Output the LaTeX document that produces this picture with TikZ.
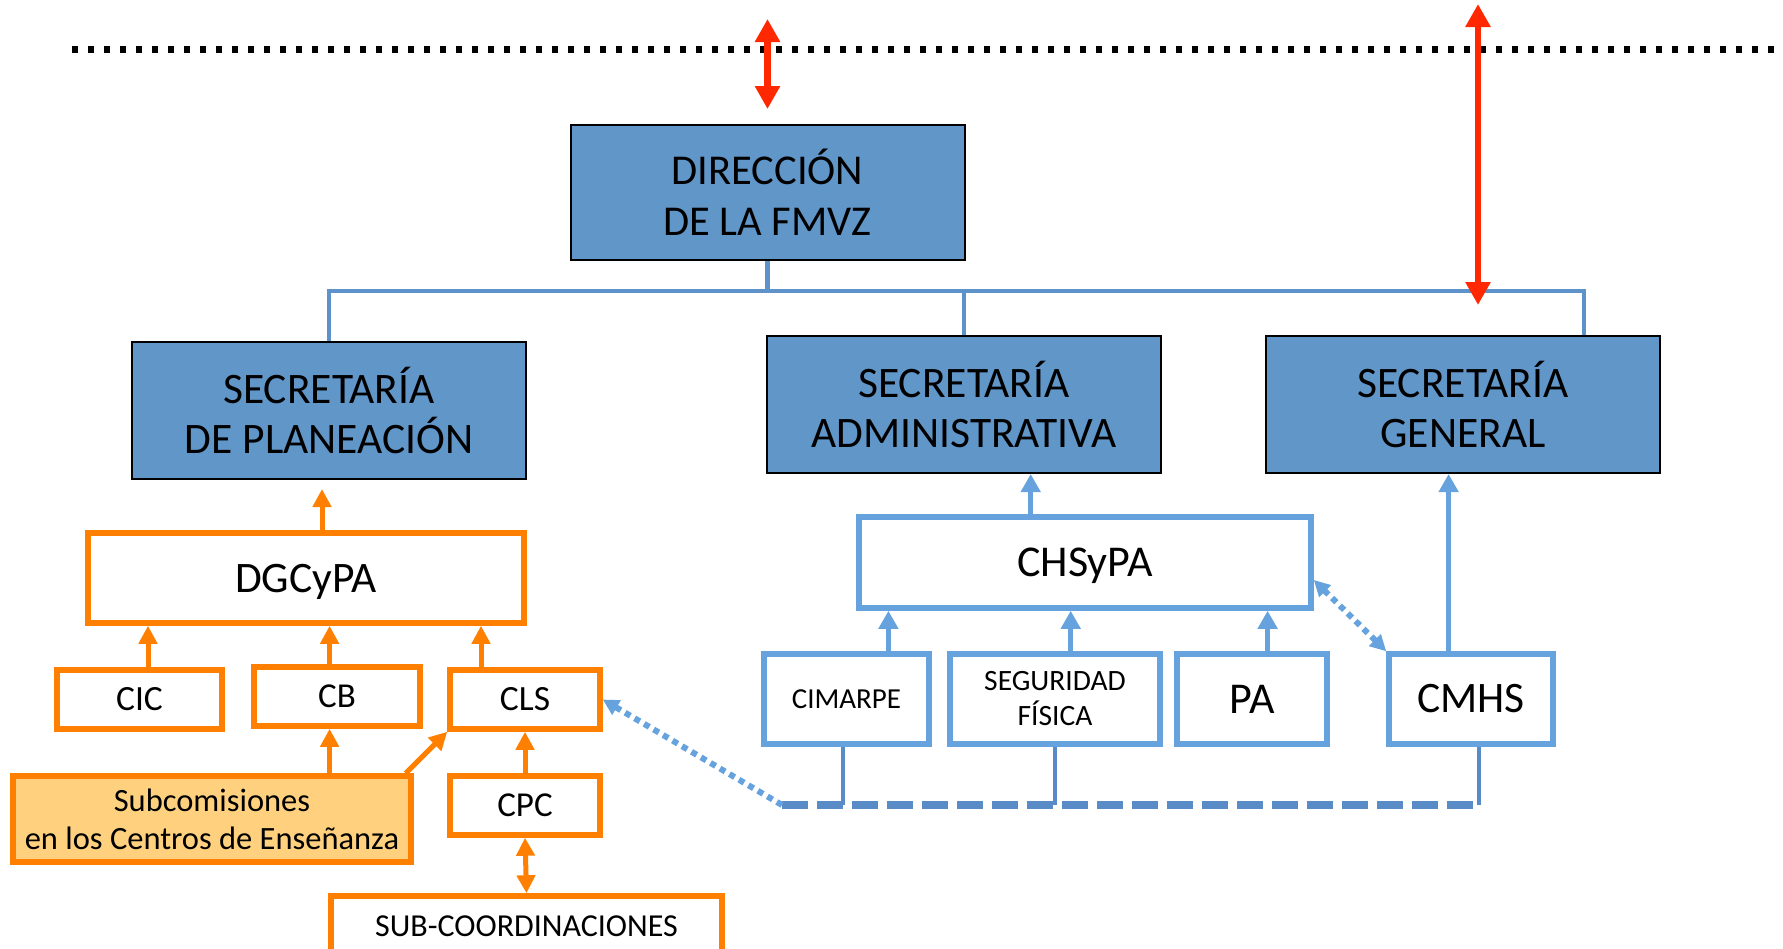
\documentclass[tikz,border=0pt]{standalone}
\usepackage{fontspec}
\setmainfont{Carlito}
\usetikzlibrary{arrows.meta}
\definecolor{secfill}{RGB}{97,150,201}
\definecolor{linkblue}{RGB}{94,146,202}
\definecolor{boxblue}{RGB}{102,163,222}
\definecolor{dashblue}{RGB}{89,140,199}
\definecolor{orng}{RGB}{255,128,0}
\definecolor{paleorng}{RGB}{255,209,127}
\definecolor{redarr}{RGB}{255,40,0}
\begin{document}
\begin{tikzpicture}[x=1pt,y=-1pt,
	secbox/.style={draw=black,line width=2pt,fill=secfill,minimum width=394pt,minimum height=137pt,inner sep=0pt,align=center,font=\fontsize{43.5}{50}\selectfont},
	obox/.style={draw=orng,line width=5.5pt,fill=white,inner sep=0pt,align=center},
	bbox/.style={draw=boxblue,line width=5.5pt,fill=white,inner sep=0pt,align=center},
	link/.style={draw=linkblue,line width=4.5pt},
	drop/.style={draw=dashblue,line width=4pt},
	oarr/.style={draw=orng,line width=5pt,-{Triangle[length=18pt,width=18pt]}},
	barr/.style={draw=boxblue,line width=5pt,-{Triangle[length=18pt,width=19pt]}},
	rarr/.style={draw=redarr,line width=6.5pt,{Triangle[length=23pt,width=24pt]}-{Triangle[length=23pt,width=24pt]}},
	dotarr/.style={draw=boxblue,line width=6pt,dash pattern=on 6pt off 5pt}
	]
	\useasboundingbox (0,0) rectangle (1783,948);
	
	\coordinate (topL) at (72,49);
	\coordinate (topR) at (1783,49);
	\draw[line width=7pt,dash pattern=on 6pt off 10pt] (topL) -- (topR);
	
	\node[secbox,minimum height=135pt,font=\fontsize{42.5}{51}\selectfont] (dir) at (767.5,192.5) {DIRECCIÓN\\DE LA FMVZ};
	\node[secbox] (secplan) at (329,410.5) {SECRETARÍA\\DE PLANEACIÓN};
	\node[secbox] (secadm) at (964,404.5) {SECRETARÍA\\ADMINISTRATIVA};
	\node[secbox] (secgen) at (1463,404.5) {SECRETARÍA\\GENERAL};
	
	\coordinate (busL) at (329,291);
	\coordinate (busR) at (1584,291);
	\draw[link] (dir.south) -- (dir.south |- busL);
	\draw[link] (secplan.north) -- (busL) -- (busR) -- (busR |- secgen.north);
	\draw[link] (secadm.north) -- (secadm.north |- busL);
	
	\node[obox,minimum width=436pt,minimum height=90pt,text depth=0pt,font=\fontsize{43.5}{50}\selectfont] (dgcypa) at (306,578) {DGCyPA};
	\node[obox,minimum width=165pt,minimum height=59pt,font=\fontsize{35.5}{40}\selectfont] (cic) at (139.5,699.5) {CIC};
	\node[obox,minimum width=166pt,minimum height=59pt,font=\fontsize{35}{40}\selectfont] (cb) at (337,696.5) {CB};
	\node[obox,minimum width=150pt,minimum height=59pt,font=\fontsize{35.5}{40}\selectfont] (cls) at (525,699.5) {CLS};
	\node[obox,fill=paleorng,minimum width=398pt,minimum height=86pt,font=\fontsize{32.5}{38}\selectfont] (subcom) at (212,819) {Subcomisiones\\en los Centros de Enseñanza};
	\node[obox,minimum width=150pt,minimum height=59pt,font=\fontsize{35}{40}\selectfont] (cpc) at (525,805.5) {CPC};
	\node[obox,minimum width=391pt,minimum height=60pt,font=\fontsize{32}{38}\selectfont] (subcoord) at (526.5,926) {SUB-COORDINACIONES};
	
	\draw[oarr,shorten >=9pt] (322,0 |- dgcypa.north) -- (322,0 |- secplan.south);
	\draw[oarr] (148,0 |- cic.north) -- (148,0 |- dgcypa.south);
	\draw[oarr] (329.6,0 |- cb.north) -- (329.6,0 |- dgcypa.south);
	\draw[oarr] (481,0 |- cls.north) -- (481,0 |- dgcypa.south);
	\draw[oarr] (329.6,0 |- subcom.north) -- (329.6,0 |- cb.south);
	\draw[oarr] ([xshift=-8pt]subcom.north east) -- (cls.south west);
	\draw[oarr] (cpc.north) -- (cls.south);
	\draw[oarr,{Triangle[length=18pt,width=18pt]}-{Triangle[length=18pt,width=18pt]}] (cpc.south) -- (subcoord.north);
	
	\node[bbox,minimum width=452pt,minimum height=91pt,text depth=0pt,font=\fontsize{44}{50}\selectfont] (chsypa) at (1085,562.5) {CHSyPA};
	\node[bbox,minimum width=165pt,minimum height=90pt,font=\fontsize{29}{34}\selectfont] (cimarpe) at (846.5,699) {CIMARPE};
	\node[bbox,minimum width=210pt,minimum height=90pt,font=\fontsize{29.5}{35}\selectfont] (segur) at (1055,699) {SEGURIDAD\\FÍSICA};
	\node[bbox,minimum width=150pt,minimum height=90pt,font=\fontsize{44}{48}\selectfont] (pa) at (1252,699) {PA};
	\node[bbox,minimum width=164pt,minimum height=90pt,font=\fontsize{43.5}{48}\selectfont] (cmhs) at (1471,699) {CMHS};
	
	\draw[barr] (1030.7,0 |- chsypa.north) -- (1030.7,0 |- secadm.south);
	\draw[barr] (1448.6,0 |- cmhs.north) -- (1448.6,0 |- secgen.south);
	\draw[barr] (888.4,0 |- cimarpe.north) -- (888.4,0 |- chsypa.south);
	\draw[barr] (1070.7,0 |- segur.north) -- (1070.7,0 |- chsypa.south);
	\draw[barr] (1267.6,0 |- pa.north) -- (1267.6,0 |- chsypa.south);
	\draw[dotarr,{Triangle[length=16pt,width=16pt]}-{Triangle[length=16pt,width=16pt]}] (cmhs.north west) -- ([yshift=-17.5pt]chsypa.east);
	
	\coordinate (dashL) at (782,805);
	\coordinate (dashR) at (1478.5,805);
	\draw[drop] (843,0 |- cimarpe.south) -- (843,0 |- dashL);
	\draw[drop] (segur.south) -- (segur.south |- dashL);
	\draw[drop] (1478.5,0 |- cmhs.south) -- (dashR);
	\draw[draw=dashblue,line width=7.5pt,dash pattern=on 26pt off 9pt] (dashL) -- (dashR);
	\draw[dotarr,-{Triangle[length=16pt,width=16pt]}] (dashL) -- (cls.east);
	
	\coordinate (red1T) at (767.5,19);
	\coordinate (red1B) at (767.5,109);
	\coordinate (red2T) at (1478,4);
	\coordinate (red2B) at (1478,305);
	\draw[rarr] (red1T) -- (red1B);
	\draw[rarr] (red2T) -- (red2B);
\end{tikzpicture}
\end{document}
